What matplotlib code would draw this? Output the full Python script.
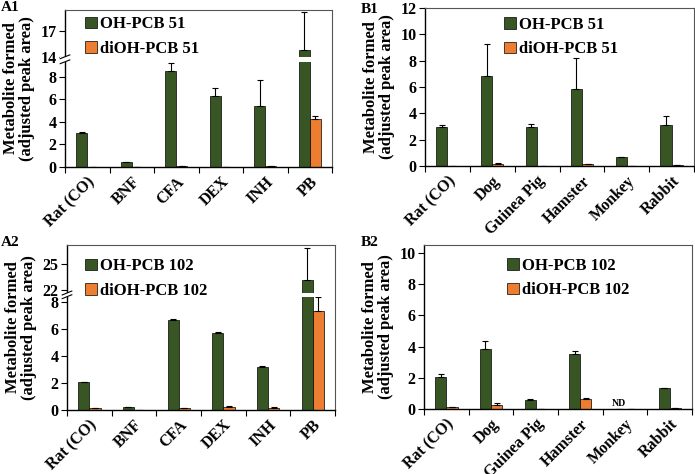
import matplotlib
matplotlib.use("Agg")
import matplotlib.pyplot as plt
import numpy as np
from matplotlib.patches import Rectangle

plt.rcParams["font.family"] = ["Liberation Serif", "DejaVu Serif"]
plt.rcParams["font.weight"] = "bold"

GREEN = "#375623"
ORANGE = "#ED7D31"

treatments = ["Rat (CO)", "BNF", "CFA", "DEX", "INH", "PB"]
species = ["Rat (CO)", "Dog", "Guinea Pig", "Hamster", "Monkey", "Rabbit"]

# A1: OH-PCB 51 / diOH-PCB 51 by inducer
a1_oh = [3.05, 0.42, 8.53, 6.34, 5.45, 14.8]
a1_oh_err = [0.05, 0.02, 0.65, 0.70, 2.30, 4.40]
a1_di = [0.01, 0.0, 0.08, 0.02, 0.08, 4.24]
a1_di_err = [0.0, 0.0, 0.02, 0.0, 0.02, 0.30]

# B1: OH-PCB 51 / diOH-PCB 51 by species
b1_oh = [3.0, 6.85, 3.0, 5.84, 0.66, 3.15]
b1_oh_err = [0.12, 2.40, 0.22, 2.35, 0.05, 0.65]
b1_di = [0.02, 0.12, 0.02, 0.12, 0.01, 0.05]
b1_di_err = [0.0, 0.10, 0.0, 0.05, 0.0, 0.0]

# A2: OH-PCB 102 / diOH-PCB 102 by inducer
a2_oh = [2.05, 0.22, 6.68, 5.72, 3.18, 23.2]
a2_oh_err = [0.02, 0.01, 0.02, 0.05, 0.05, 3.70]
a2_di = [0.12, 0.02, 0.15, 0.22, 0.17, 7.35]
a2_di_err = [0.02, 0.0, 0.02, 0.05, 0.08, 1.20]

# B2: OH-PCB 102 / diOH-PCB 102 by species
b2_oh = [2.04, 3.83, 0.60, 3.51, 0.0, 1.32]
b2_oh_err = [0.20, 0.55, 0.03, 0.20, 0.0, 0.05]
b2_di = [0.10, 0.24, 0.01, 0.66, 0.0, 0.08]
b2_di_err = [0.02, 0.12, 0.0, 0.02, 0.0, 0.0]

W, H = 695, 474


def make_axes(fig, left, top, right, bottom):
    return fig.add_axes([left / W, 1 - bottom / H, (right - left) / W, (bottom - top) / H])


def broken_scale(vals, px):
    # piecewise linear y scale: lower segment, small gap, upper segment
    s0 = (px[1] - px[0]) / (vals[1] - vals[0])
    s1 = (px[-1] - px[-2]) / (vals[-1] - vals[-2])
    v = [vals[0] - 100] + list(vals) + [vals[-1] + 100]
    p = [px[0] - 100 * s0] + list(px) + [px[-1] + 100 * s1]
    fwd = lambda y: np.interp(y, v, p)
    inv = lambda d: np.interp(d, p, v)
    return fwd, inv


def draw_panel(ax, cats, oh, oh_err, di, di_err, labels, legend_xy):
    x = np.arange(len(cats))
    zero = np.zeros(len(cats))
    b1 = ax.bar(x - 0.125, oh, 0.25, color=GREEN, edgecolor="black", linewidth=0.5,
                label=labels[0], zorder=1)
    ax.errorbar(x - 0.125, oh, yerr=[zero, oh_err], fmt="none", ecolor="black",
                elinewidth=0.8, capsize=2.5, capthick=0.8, zorder=1.5)
    b2 = ax.bar(x + 0.125, di, 0.25, color=ORANGE, edgecolor="black", linewidth=0.5,
                label=labels[1], zorder=1)
    ax.errorbar(x + 0.125, di, yerr=[zero, di_err], fmt="none", ecolor="black",
                elinewidth=0.8, capsize=2.5, capthick=0.8, zorder=1.5)
    ax.set_xlim(-0.5, len(cats) - 0.5)
    ax.set_xticks(x)
    ax.set_xticklabels(cats, rotation=45, ha="right", rotation_mode="anchor",
                       fontsize=11.5, fontweight="bold")
    ax.set_xticks(np.arange(len(cats) + 1) - 0.5, minor=True)
    ax.tick_params(axis="x", which="major", length=0, pad=5)
    ax.tick_params(axis="x", which="minor", length=4, width=0.8, direction="out")
    ax.tick_params(axis="y", length=4, width=0.8, direction="out", labelsize=11.5, pad=2)
    for s in ["top", "right"]:
        ax.spines[s].set_color("#555555")
        ax.spines[s].set_linewidth(0.8)
    for s in ["left", "bottom"]:
        ax.spines[s].set_linewidth(1.0)
    ax.set_ylabel("Metabolite formed\n(adjusted peak area)", fontsize=12,
                  fontweight="bold", labelpad=4, linespacing=1.0)
    ax.legend(handles=[b1, b2], loc="upper left", bbox_to_anchor=legend_xy, frameon=False,
              prop={"size": 12, "weight": "bold"}, handlelength=0.7, handleheight=0.7,
              handletextpad=0.2, labelspacing=0.5, borderaxespad=0, borderpad=0)


def add_break(ax, lo, hi, fwd, top):
    f_lo = fwd(lo) / fwd(top)
    f_hi = fwd(hi) / fwd(top)
    ax.add_patch(Rectangle((-0.02, f_lo), 1.013, f_hi - f_lo, transform=ax.transAxes,
                           facecolor="white", edgecolor="none", zorder=3, clip_on=False))
    for f in (f_lo, f_hi):
        ax.plot([-0.018, 0.018], [f - 0.012, f + 0.012], color="black", lw=0.8,
                transform=ax.transAxes, clip_on=False, zorder=4)


fig = plt.figure(figsize=(W / 100, H / 100), dpi=100)

# A1
ax = make_axes(fig, 65, 10, 332, 167)
fwd, inv = broken_scale([0, 9.33, 14, 19.45], [0, 105, 110, 156.7])
ax.set_yscale("function", functions=(fwd, inv))
draw_panel(ax, treatments, a1_oh, a1_oh_err, a1_di, a1_di_err,
           ["OH-PCB 51", "diOH-PCB 51"], (0.075, 0.96))
ax.set_ylim(0, 19.45)
ax.set_yticks([0, 2, 4, 6, 8, 14, 17])
ax.set_yticklabels(["0", "2", "4", "6", "8", "14", "17"], fontweight="bold")
add_break(ax, 9.33, 14, fwd, 19.45)

# B1
ax = make_axes(fig, 425, 8, 694, 166)
draw_panel(ax, species, b1_oh, b1_oh_err, b1_di, b1_di_err,
           ["OH-PCB 51", "diOH-PCB 51"], (0.294, 0.943))
ax.set_ylim(0, 12)
ax.set_yticks(range(0, 13, 2))

# A2
ax = make_axes(fig, 67, 245, 335, 410)
fwd, inv = broken_scale([0, 8.37, 21.65, 27.26], [0, 113.3, 117, 165])
ax.set_yscale("function", functions=(fwd, inv))
draw_panel(ax, treatments, a2_oh, a2_oh_err, a2_di, a2_di_err,
           ["OH-PCB 102", "diOH-PCB 102"], (0.067, 0.92))
ax.set_ylim(0, 27.26)
ax.set_yticks([0, 2, 4, 6, 8, 22, 25])
ax.set_yticklabels(["0", "2", "4", "6", "8", "22", "25"], fontweight="bold")
add_break(ax, 8.37, 21.65, fwd, 27.26)

# B2
ax = make_axes(fig, 424, 245, 692, 409)
draw_panel(ax, species, b2_oh, b2_oh_err, b2_di, b2_di_err,
           ["OH-PCB 102", "diOH-PCB 102"], (0.31, 0.92))
ax.set_ylim(0, 10.5)
ax.set_yticks(range(0, 11, 2))
ax.text(4 - 0.125, 0.08, "ND", ha="center", va="bottom", fontsize=7, fontweight="bold")

for label, (px, py) in {"A1": (1, 1), "B1": (361, 3), "A2": (1, 236), "B2": (361, 236)}.items():
    fig.text(px / W, 1 - py / H, label, ha="left", va="top", fontsize=11, fontweight="bold")

fig.savefig("out.png", dpi=100)
